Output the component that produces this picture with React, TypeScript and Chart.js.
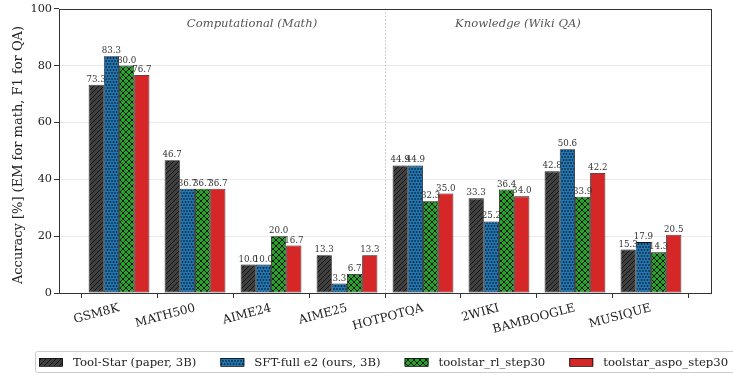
import React, { useEffect, useRef } from 'react';
import { Chart, registerables } from 'chart.js';

Chart.register(...registerables);

const categories = ['GSM8K', 'MATH500', 'AIME24', 'AIME25', 'HOTPOTQA', '2WIKI', 'BAMBOOGLE', 'MUSIQUE'];
const seriesNames = ['Tool-Star (paper, 3B)', 'SFT-full e2 (ours, 3B)', 'toolstar_rl_step30', 'toolstar_aspo_step30'];
const toolStar = [73.3, 46.7, 10.0, 13.3, 44.9, 33.3, 42.8, 15.3];
const sftFull = [83.3, 36.7, 10.0, 3.3, 44.9, 25.2, 50.6, 17.9];
const rlStep30 = [80.0, 36.7, 20.0, 6.7, 32.3, 36.4, 33.9, 14.3];
const aspoStep30 = [76.7, 36.7, 16.7, 13.3, 35.0, 34.0, 42.2, 20.5];
const yTicks = [0, 20, 40, 60, 80, 100];
const groupLabels = ['Computational (Math)', 'Knowledge (Wiki QA)'];
const groupLabelPositions = [1.75, 5.25];
const groupSeparator = 3.5;
const yTitle = 'Accuracy [%] (EM for math, F1 for QA)';

const FONT = "'DejaVu Serif', serif";

function makeTile(size: number, draw: (c: CanvasRenderingContext2D) => void): CanvasPattern | string {
  const cv = document.createElement('canvas');
  cv.width = size;
  cv.height = size;
  const c = cv.getContext('2d')!;
  draw(c);
  const ctx = document.createElement('canvas').getContext('2d')!;
  return ctx.createPattern(cv, 'repeat') || '#000';
}

function makePatterns() {
  const hatch = makeTile(5, (c) => {
    c.fillStyle = '#404040';
    c.fillRect(0, 0, 5, 5);
    c.strokeStyle = '#111';
    c.lineWidth = 0.9;
    c.beginPath();
    c.moveTo(-1, 6); c.lineTo(6, -1);
    c.moveTo(-1, 1); c.lineTo(1, -1);
    c.moveTo(4, 6); c.lineTo(6, 4);
    c.stroke();
  });
  const dots = makeTile(6, (c) => {
    c.fillStyle = '#1f77b4';
    c.fillRect(0, 0, 6, 6);
    c.fillStyle = '#0a0a0a';
    const pts = [[1, 1], [4, 1], [2.5, 4], [5.5, 4], [-0.5, 4]];
    pts.forEach(([x, y]) => {
      c.beginPath();
      c.arc(x, y, 0.8, 0, Math.PI * 2);
      c.fill();
    });
  });
  const cross = makeTile(6, (c) => {
    c.fillStyle = '#2ca02c';
    c.fillRect(0, 0, 6, 6);
    c.strokeStyle = '#111';
    c.lineWidth = 0.9;
    c.beginPath();
    c.moveTo(-1, 7); c.lineTo(7, -1);
    c.moveTo(-1, -1); c.lineTo(7, 7);
    c.stroke();
  });
  return [hatch, dots, cross, '#d62728'];
}

export default function App() {
  const canvasRef = useRef<HTMLCanvasElement | null>(null);

  useEffect(() => {
    document.body.style.margin = '0';
    const canvas = canvasRef.current;
    if (!canvas) return;
    const fills = makePatterns();
    const seriesValues = [toolStar, sftFull, rlStep30, aspoStep30];

    const decorPlugin = {
      id: 'decor',
      beforeDatasetsDraw(chart: any) {
        const { ctx, chartArea, scales } = chart;
        const xs = scales.x;
        ctx.save();
        const sx = Math.round(xs.getPixelForValue(groupSeparator)) + 0.5;
        ctx.strokeStyle = '#b0b0b0';
        ctx.lineWidth = 0.8;
        ctx.setLineDash([1.5, 2]);
        ctx.beginPath();
        ctx.moveTo(sx, chartArea.top);
        ctx.lineTo(sx, chartArea.bottom);
        ctx.stroke();
        ctx.setLineDash([]);
        ctx.font = `italic 11.6px ${FONT}`;
        ctx.fillStyle = '#555';
        ctx.textAlign = 'center';
        ctx.textBaseline = 'middle';
        groupLabels.forEach((t, i) => {
          ctx.fillText(t, xs.getPixelForValue(groupLabelPositions[i]), chartArea.top + 15);
        });
        ctx.restore();
      },
      afterDatasetsDraw(chart: any) {
        const { ctx, chartArea } = chart;
        ctx.save();
        ctx.font = `8.7px ${FONT}`;
        ctx.fillStyle = '#333';
        ctx.textAlign = 'center';
        ctx.textBaseline = 'alphabetic';
        chart.data.datasets.forEach((ds: any, di: number) => {
          const meta = chart.getDatasetMeta(di);
          meta.data.forEach((el: any, i: number) => {
            const v = seriesValues[di][i];
            ctx.fillText(v.toFixed(1), el.x, el.y - 3);
          });
        });
        ctx.strokeStyle = '#333';
        ctx.lineWidth = 1;
        ctx.strokeRect(
          Math.round(chartArea.left) + 0.5,
          Math.round(chartArea.top) + 0.5,
          Math.round(chartArea.right - chartArea.left),
          Math.round(chartArea.bottom - chartArea.top)
        );
        ctx.restore();
      },
      afterDraw(chart: any) {
        const { ctx } = chart;
        ctx.save();
        // y-axis title
        ctx.translate(19, 155);
        ctx.rotate(-Math.PI / 2);
        ctx.font = `13px ${FONT}`;
        ctx.fillStyle = '#222';
        ctx.textAlign = 'center';
        ctx.textBaseline = 'middle';
        ctx.fillText(yTitle, 0, 0);
        ctx.restore();

        ctx.save();
        const boxX = 35.5, boxY = 351.5, boxH = 21;
        ctx.fillStyle = 'rgba(255,255,255,0.85)';
        ctx.strokeStyle = '#cccccc';
        ctx.lineWidth = 1;
        ctx.beginPath();
        const r = 2;
        const bw = 760;
        ctx.moveTo(boxX + r, boxY);
        ctx.lineTo(boxX + bw, boxY);
        ctx.lineTo(boxX + bw, boxY + boxH);
        ctx.lineTo(boxX + r, boxY + boxH);
        ctx.arcTo(boxX, boxY + boxH, boxX, boxY + boxH - r, r);
        ctx.lineTo(boxX, boxY + r);
        ctx.arcTo(boxX, boxY, boxX + r, boxY, r);
        ctx.closePath();
        ctx.fill();
        ctx.stroke();
        ctx.font = `11.7px ${FONT}`;
        ctx.textAlign = 'left';
        ctx.textBaseline = 'middle';
        let x = 39;
        const cy = boxY + boxH / 2;
        seriesNames.forEach((name, i) => {
          ctx.fillStyle = fills[i] as any;
          ctx.fillRect(x, cy - 4, 24, 8);
          ctx.strokeStyle = '#111';
          ctx.lineWidth = 0.8;
          ctx.strokeRect(x + 0.5, cy - 4 + 0.5, 23, 8);
          ctx.fillStyle = '#222';
          ctx.fillText(name, x + 34, cy + 0.5);
          x = x + 34 + ctx.measureText(name).width + 24;
        });
        ctx.restore();
      },
    };

    const chart = new Chart(canvas, {
      type: 'bar',
      data: {
        datasets: seriesNames.map((name, di) => ({
          label: name,
          data: seriesValues[di].map((v, i) => ({ x: i, y: v })),
          backgroundColor: fills[di] as any,
          borderColor: '#111',
          borderWidth: 0.8,
          borderSkipped: false,
          categoryPercentage: 0.8,
          barPercentage: 1.0,
        })),
      },
      options: {
        responsive: false,
        animation: false,
        devicePixelRatio: 1,
        layout: { padding: { top: 6, right: 22, left: 0, bottom: 0 } },
        plugins: {
          legend: { display: false },
          tooltip: { enabled: false },
        },
        scales: {
          x: {
            type: 'linear',
            min: -0.79,
            max: 7.79,
            offset: false,
            afterBuildTicks: (s: any) => {
              s.ticks = categories.map((_, i) => ({ value: i }));
            },
            afterFit: (s: any) => {
              s.height = 82;
            },
            ticks: {
              callback: (v: any) => categories[Math.round(Number(v))] ?? '',
              autoSkip: false,
              minRotation: 15,
              maxRotation: 15,
              padding: 3,
              color: '#222',
              font: { family: FONT, size: 12 },
            },
            grid: {
              drawOnChartArea: false,
              drawTicks: true,
              tickLength: 5,
              tickColor: '#333',
              tickWidth: 1,
            },
            border: { display: false },
          },
          y: {
            min: 0,
            max: 100,
            afterBuildTicks: (s: any) => {
              s.ticks = yTicks.map((v) => ({ value: v }));
            },
            afterFit: (s: any) => {
              s.width = 59;
            },
            ticks: {
              padding: 2,
              color: '#222',
              font: { family: FONT, size: 11.3 },
            },
            grid: {
              color: (c: any) => (c.tick && (c.tick.value === 0 || c.tick.value === 100) ? 'rgba(0,0,0,0)' : '#e3e3e3'),
              lineWidth: 0.8,
              borderDash: [4, 2],
              tickBorderDash: [],
              tickColor: '#333',
              tickLength: 5,
              tickWidth: 1,
            },
            border: { display: false },
            title: { display: false },
          },
        },
      },
      plugins: [decorPlugin],
    });

    return () => {
      chart.destroy();
    };
  }, []);

  return (
    <div style={{ width: 733, height: 375, background: '#fff' }}>
      <canvas ref={canvasRef} width={733} height={375} style={{ display: 'block' }} />
    </div>
  );
}
